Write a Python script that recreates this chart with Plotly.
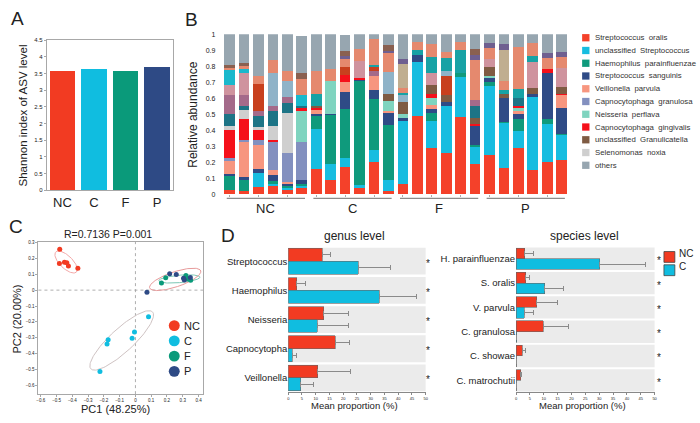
import numpy as np
import plotly.graph_objects as go

W, H = 700, 423
FONT = "Liberation Sans, Arial, sans-serif"


def px(x):
    return x / W


def py(y):
    return 1 - y / H


# ---------------- Panel A data ----------------
groups = ["NC", "C", "F", "P"]
shannon = [3.58, 3.64, 3.56, 3.69]
group_colors = ["#f23b22", "#10bde0", "#0a9a7a", "#2e4a85"]

# ---------------- Panel B data ----------------
samples = [f"{g}{i}" for g in groups for i in range(1, 7)]
sp_oralis = [.03, .02, .045, .055, .03, .04, .16, .09, .17, .04, .20, .02, .065, .487, .29, .26, .485, .19, .245, .165, .29, .155, .205, .215]
sp_uncl_strep = [0, 0, .09, .01, .015, .01, .25, .10, .055, .02, .08, .07, .395, .339, .17, .29, .25, .11, .43, .285, .105, .455, .235, .155]
sp_haemophilus = [.09, .07, 0, .02, .01, .015, .08, .305, .31, .65, .315, .345, 0, 0, .05, 0, .025, .01, .025, .005, .075, 0, .03, .01]
sp_sanguinis = [.01, .02, .025, .035, .015, .025, .01, .005, .105, .005, .055, .075, .015, .045, .025, .03, 0, .12, .025, .145, .03, .015, .29, .16]
sp_veillonella = [.08, .22, .15, .03, .01, 0, .03, 0, .06, 0, .09, .01, 0, 0, .025, 0, 0, 0, 0, 0, .02, 0, 0, .08]
sp_granulosa = [.015, .01, .03, .18, .18, .24, 0, 0, 0, 0, 0, 0, 0, 0, 0, 0, 0, 0, 0, 0, 0, 0, 0, 0]
sp_neisseria = [0, 0, 0, 0, 0, .19, 0, .21, 0, 0, 0, .065, .03, 0, .04, 0, 0, 0, .015, 0, .02, 0, 0, 0]
sp_gingivalis = [.175, .13, .06, .01, 0, .02, .01, 0, .045, .01, 0, 0, 0, 0, .03, 0, 0, .01, 0, 0, .01, 0, .02, .01]
sp_granulicatella = [0, 0, 0, 0, 0, 0, .01, 0, 0, 0, 0, .04, .075, 0, .05, .04, 0, .04, .055, .03, 0, .04, 0, .04]
sp_selenomonas = [.03, .06, .02, .09, .25, 0, 0, 0, 0, 0, 0, 0, 0, 0, 0, 0, 0, 0, 0, 0, 0, 0, 0, 0]
ot_teal = [.075, .025, .07, .09, .06, .01, 0, 0, 0, 0, 0, 0, 0, 0, 0, 0, 0, .07, 0, 0, .05, 0, 0, 0]
ot_mauve = [.115, .065, .03, .03, .04, 0, 0, 0, 0, 0, .03, 0, 0, 0, 0, 0, 0, .04, 0, 0, 0, 0, 0, 0]
ot_rust = [0, 0, .17, 0, 0, 0, 0, 0, .05, 0, .03, 0, 0, 0, 0, .12, 0, 0, 0, 0, 0, 0, 0, 0]
ot_steel = [0, 0, 0, .21, .10, 0, 0, 0, 0, 0, 0, .14, .04, 0, 0, .03, 0, 0, 0, 0, 0, 0, 0, 0]
ot_pink = [.065, .14, 0, 0, 0, 0, 0, 0, 0, .11, 0, 0, 0, 0, .08, 0, 0, 0, .05, 0, 0, .16, 0, .12]
ot_turq = [0, 0, 0, 0, 0, 0, .08, 0, 0, 0, .01, 0, .015, .03, .10, .08, .14, 0, 0, .02, .06, .04, 0, 0]
ot_cyan = [.09, .02, 0, 0, 0, .07, 0, 0, 0, 0, 0, 0, 0, 0, 0, 0, 0, 0, 0, 0, 0, 0, 0, 0]
ot_misc = [.015, .02, .05, .08, .06, .10, .14, .07, .05, .07, .16, .12, .03, .05, .08, .04, .05, .25, .07, .06, .26, .08, .07, .07]
ot_tan = [0, 0, 0, 0, 0, 0, 0, 0, 0, 0, 0, 0, .15, 0, 0, 0, 0, 0, 0, .19, 0, 0, 0, 0]
ot_purple = [0, 0, 0, 0, 0, 0, 0, 0, .02, 0, 0, .01, .03, 0, 0, 0, 0, .03, .03, .04, 0, 0, .03, .03]
ot_brown = [.02, .02, 0, 0, 0, .04, 0, 0, .03, 0, 0, .04, 0, 0, 0, 0, 0, .04, 0, 0, 0, 0, 0, 0]
sp_others = [.19, .18, .26, .16, .23, .23, .23, .22, .10, .095, .03, .065, .155, .05, .06, .11, .05, .09, .055, .06, .08, .055, .12, .11]

legend_names = ["Streptococcus  oralis", "unclassified  Streptococcus", "Haemophilus  parainfluenzae",
                "Streptococcus  sanguinis", "Veillonella  parvula", "Capnocytophaga  granulosa",
                "Neisseria  perflava", "Capnocytophaga  gingivalis", "unclassified  Granulicatella",
                "Selenomonas  noxia", "others"]
legend_colors = ["#f4412a", "#17bde0", "#0f9a7c", "#2f4b86", "#f7967f", "#8390bf",
                 "#7fd4bf", "#f5101a", "#7f5b43", "#cfcfcf", "#97a6b0"]

layers = [
    (sp_oralis, legend_colors[0]), (sp_uncl_strep, legend_colors[1]), (sp_haemophilus, legend_colors[2]),
    (sp_sanguinis, legend_colors[3]), (sp_veillonella, legend_colors[4]), (sp_granulosa, legend_colors[5]),
    (sp_neisseria, legend_colors[6]), (sp_gingivalis, legend_colors[7]), (sp_granulicatella, legend_colors[8]),
    (sp_selenomonas, legend_colors[9]),
    (ot_teal, "#1d7486"), (ot_mauve, "#a46a8a"), (ot_rust, "#c8401e"), (ot_steel, "#8fb3c8"),
    (ot_pink, "#cf939e"), (ot_turq, "#17a2a5"), (ot_cyan, "#1ab8cc"), (ot_misc, "#e5896e"),
    (ot_tan, "#c0ae90"), (ot_purple, "#6f5f90"), (ot_brown, "#8a6050"),
    (sp_others, legend_colors[10]),
]

# ---------------- Panel C data ----------------
pc1 = {
    "NC": [-0.48, -0.482, -0.45, -0.435, -0.425, -0.365],
    "C": [0.083, -0.006, -0.021, -0.173, -0.18, -0.225],
    "F": [0.165, 0.192, 0.32, 0.31, 0.335, 0.35],
    "P": [0.217, 0.259, 0.305, 0.31, 0.348, 0.073],
}
pc2 = {
    "NC": [0.258, 0.167, 0.176, 0.172, 0.152, 0.138],
    "C": [-0.167, -0.264, -0.303, -0.313, -0.34, -0.513],
    "F": [0.045, 0.078, 0.092, 0.075, 0.07, 0.063],
    "P": [0.103, 0.099, 0.075, 0.064, 0.079, -0.014],
}
ellipse_colors = {"NC": "#f2a8a8", "C": "#cfc3c3", "F": "#7cc7b5", "P": "#e79a9a"}

# ---------------- Panel D data ----------------
genus = ["Streptococcus", "Haemophilus", "Neisseria", "Capnocytopha", "Veillonella"]
genus_nc = [12.3, 3.1, 12.9, 17.1, 10.8]
genus_nc_sd = [3.1, 3.2, 9.1, 5.3, 11.7]
genus_c = [25.5, 33.1, 10.6, 1.4, 4.5]
genus_c_sd = [11.8, 13.5, 11.4, 1.5, 4.7]

species = ["H. parainfluenzae", "S. oralis", "V. parvula", "C. granulosa", "C. showae", "C. matrochutii"]
species_nc = [3.1, 3.5, 7.4, 9.8, 2.3, 1.7]
species_nc_sd = [3.2, 1.2, 7.5, 9.2, 1.3, 0.3]
species_c = [30.2, 10.3, 3.0, 0.2, 0.1, 0.1]
species_c_sd = [16.6, 6.8, 3.4, 0, 0, 0]

fig = go.Figure()

# ---- A ----
fig.add_trace(go.Bar(x=groups, y=shannon, marker=dict(color=group_colors, line=dict(width=0)),
                     width=0.82, xaxis="x", yaxis="y", showlegend=False))

# ---- B ----
for vals, col in layers:
    fig.add_trace(go.Bar(x=samples, y=vals, marker=dict(color=col, line=dict(width=0)), width=0.74,
                         xaxis="x2", yaxis="y2", showlegend=False))


# ---- C ----
def ellipse(xs, ys, k=1.65, n=120):
    pts = np.vstack([xs, ys])
    mu = pts.mean(axis=1)
    vals, vecs = np.linalg.eigh(np.cov(pts))
    t = np.linspace(0, 2 * np.pi, n)
    circ = np.vstack([np.cos(t), np.sin(t)])
    e = vecs @ (np.sqrt(vals)[:, None] * circ) * k + mu[:, None]
    return e[0], e[1]


for g in groups:
    ex, ey = ellipse(pc1[g], pc2[g])
    fig.add_trace(go.Scatter(x=ex, y=ey, mode="lines", line=dict(color=ellipse_colors[g], width=1),
                             xaxis="x3", yaxis="y3", showlegend=False, hoverinfo="skip"))
for g, col in zip(groups, group_colors):
    fig.add_trace(go.Scatter(x=pc1[g], y=pc2[g], mode="markers", marker=dict(color=col, size=5),
                             xaxis="x3", yaxis="y3", showlegend=False))


# ---- D ----
def hbar(vals, sds, col, cats, offset, xa, ya):
    pos = [i + offset for i in range(len(cats))]
    fig.add_trace(go.Bar(x=vals, y=pos, orientation="h", width=0.44,
                         marker=dict(color=col, line=dict(width=0.6, color="#666666")),
                         error_x=dict(type="data", array=sds, arrayminus=[0] * len(sds), symmetric=False,
                                      color="#8a8a8a", thickness=1, width=2.5),
                         xaxis=xa, yaxis=ya, showlegend=False))


hbar(genus_nc, genus_nc_sd, group_colors[0], genus, -0.22, "x4", "y4")
hbar(genus_c, genus_c_sd, group_colors[1], genus, 0.22, "x4", "y4")
hbar(species_nc, species_nc_sd, group_colors[0], species, -0.22, "x5", "y5")
hbar(species_c, species_c_sd, group_colors[1], species, 0.22, "x5", "y5")

shapes = []
annotations = []

# grey bands + stars for D
for cats, xa, ya, sx in [(genus, "x4", "y4", 1.017), (species, "x5", "y5", 1.03)]:
    for i in range(len(cats)):
        shapes.append(dict(type="rect", xref=f"{xa} domain", yref=ya, x0=0, x1=1, y0=i - 0.46, y1=i + 0.46,
                           fillcolor="#ebebeb", line=dict(width=0), layer="below"))
        annotations.append(dict(xref=f"{xa} domain", yref=ya, x=sx, y=i, text="*", showarrow=False,
                                xanchor="center", yanchor="middle", font=dict(size=10, color="#222222"),
                                yshift=-2))

# B group underline + labels
for gi, g in enumerate(groups):
    s, e = gi * 6, gi * 6 + 5
    shapes.append(dict(type="line", xref="x2", yref="paper", x0=s - 0.2, x1=e + 0.22, y0=py(197.7), y1=py(197.7),
                       line=dict(color="#8c8c8c", width=1.2)))
    annotations.append(dict(xref="x2", yref="paper", x=(s + e) / 2, y=py(207.5), text=g, showarrow=False,
                            xanchor="center", yanchor="middle", font=dict(size=13, color="#222222")))

# B legend
for i, (nm, col) in enumerate(zip(legend_names, legend_colors)):
    cy = 34.3 + 12.97 * i
    shapes.append(dict(type="rect", xref="paper", yref="paper", x0=px(584.3), x1=px(591.7),
                       y0=py(cy + 3.7), y1=py(cy - 3.7), fillcolor=col, line=dict(width=0)))
    annotations.append(dict(xref="paper", yref="paper", x=px(595.5), y=py(cy), text=nm, showarrow=False,
                            xanchor="left", yanchor="middle", font=dict(size=7.8, color="#333333")))

# C zero lines
shapes.append(dict(type="line", xref="x3", yref="y3 domain", x0=0, x1=0, y0=0, y1=1,
                   line=dict(color="#9a9a9a", width=0.8, dash="dot"), layer="below"))
shapes.append(dict(type="line", xref="x3 domain", yref="y3", x0=0, x1=1, y0=0, y1=0,
                   line=dict(color="#9a9a9a", width=0.8, dash="dot"), layer="below"))

# C legend
for i, (g, col) in enumerate(zip(groups, group_colors)):
    cy = 327 + 15.5 * i
    shapes.append(dict(type="circle", xref="paper", yref="paper", x0=px(168), x1=px(179),
                       y0=py(cy + 5.5), y1=py(cy - 5.5), fillcolor=col, line=dict(width=0)))
    annotations.append(dict(xref="paper", yref="paper", x=px(181.5), y=py(cy), text=g, showarrow=False,
                            xanchor="left", yanchor="middle", font=dict(size=11, color="#222222")))

# D legend
for i, (g, col) in enumerate(zip(groups[:2], group_colors[:2])):
    y0 = 251.7 + 13.5 * i
    shapes.append(dict(type="rect", xref="paper", yref="paper", x0=px(666.7), x1=px(677.7),
                       y0=py(y0 + 11), y1=py(y0), fillcolor=col, line=dict(width=0.8, color="#444444")))
    annotations.append(dict(xref="paper", yref="paper", x=px(679.5), y=py(y0 + 1.5), text=g, showarrow=False,
                            xanchor="left", yanchor="middle", font=dict(size=10, color="#222222")))


# text labels
def txt(x, y, t, size, angle=0):
    annotations.append(dict(xref="paper", yref="paper", x=px(x), y=py(y), text=t, showarrow=False,
                            xanchor="center", yanchor="middle", textangle=angle,
                            font=dict(size=size, color="#222222")))


txt(16, 15, "A", 19)
txt(191, 16, "B", 19)
txt(14, 226, "C", 19)
txt(228, 235, "D", 19)
txt(21.5, 113, "Shannon index of ASV level", 11.5, -90)
txt(193, 113, "Relative abundance", 12, -90)
txt(107, 234, "R=0.7136 P=0.001", 10.5)
txt(114, 411.5, "PC1 (48.25%)", 11)
txt(15, 320, "PC2 (20.00%)", 11, -90)
txt(355, 235.5, "genus level", 12)
txt(587, 235.5, "species level", 12)
txt(355, 408, "Mean proportion (%)", 9.5)
txt(585, 408, "Mean proportion (%)", 9.5)

frame = dict(showline=True, mirror=True, linecolor="#a8a8a8", linewidth=1, showgrid=False, zeroline=False)

fig.update_layout(
    width=W, height=H, autosize=False, margin=dict(l=0, r=0, t=0, b=0),
    paper_bgcolor="white", plot_bgcolor="white", barmode="stack",
    font=dict(family=FONT, color="#222222"),
    shapes=shapes, annotations=annotations,
    xaxis=dict(domain=[px(45), px(172)], anchor="y", range=[-0.5, 3.5], ticks="", tickfont=dict(size=13),
               **frame),
    yaxis=dict(domain=[py(189.3), py(36.7)], anchor="x", range=[0, 4.5], dtick=0.5, ticks="outside", ticklen=2,
               tickcolor="#a8a8a8", tickfont=dict(size=6), **frame),
    xaxis2=dict(domain=[px(222), px(571)], anchor="y2", range=[-0.5, 23.5], showticklabels=False,
                ticks="outside", ticklen=2, tickcolor="#aaaaaa", showgrid=False, zeroline=False, showline=False),
    yaxis2=dict(domain=[py(193.7), py(30.7)], anchor="x2", range=[0, 1], dtick=0.1, showgrid=False,
                zeroline=False, showline=False, ticks="", tickfont=dict(size=7), ticklabelstandoff=6),
    xaxis3=dict(domain=[px(36.7), px(202.7)], anchor="y3", range=[-0.615, 0.43], dtick=0.1, ticks="outside",
                ticklen=1.5, tickcolor="#a8a8a8", tickfont=dict(size=4.5), **frame),
    yaxis3=dict(domain=[py(396.7), py(241.7)], anchor="x3", range=[-0.655, 0.305], dtick=0.1, ticks="outside",
                ticklen=2, tickcolor="#a8a8a8", tickfont=dict(size=4.5), **frame),
    xaxis4=dict(domain=[px(288.3), px(426.7)], anchor="y4", range=[0, 50], dtick=5, ticks="outside", ticklen=2,
                tickcolor="#888888", tickfont=dict(size=4), showline=True, linecolor="#888888", linewidth=1,
                showgrid=False, zeroline=False),
    yaxis4=dict(domain=[py(395), py(246.7)], anchor="x4", range=[len(genus) - 0.5, -0.5],
                tickvals=list(range(len(genus))), ticktext=genus, ticks="", tickfont=dict(size=9.5),
                showgrid=False, zeroline=False, showline=False),
    xaxis5=dict(domain=[px(517.7), px(657.3)], anchor="y5", range=[0, 50], dtick=5, ticks="outside", ticklen=2,
                tickcolor="#888888", tickfont=dict(size=4), showline=True, linecolor="#888888", linewidth=1,
                showgrid=False, zeroline=False),
    yaxis5=dict(domain=[py(395), py(246.7)], anchor="x5", range=[len(species) - 0.5, -0.5],
                tickvals=list(range(len(species))), ticktext=species, ticks="", tickfont=dict(size=9.5),
                showgrid=False, zeroline=False, showline=False),
)

fig.write_html("out.html", config={"displayModeBar": False},
               post_script="document.body.style.margin='0px';document.body.style.padding='0px';")
